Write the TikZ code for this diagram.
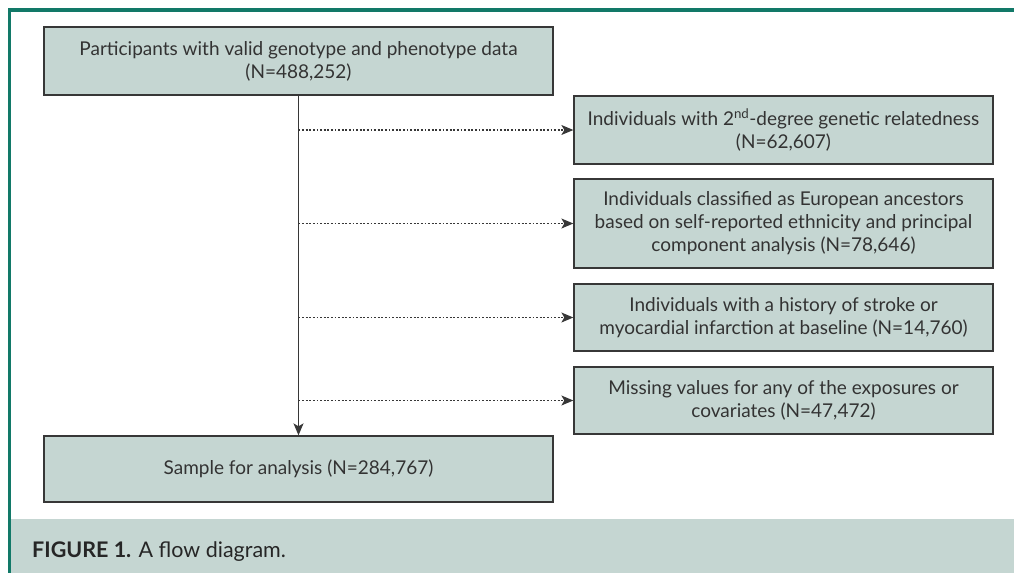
\documentclass[tikz,border=0pt]{standalone}
\usepackage{fontspec}
\setmainfont{Lato}
\usetikzlibrary{arrows.meta}
\definecolor{framegreen}{RGB}{18,121,104}
\definecolor{boxfill}{RGB}{197,214,210}
\definecolor{boxline}{RGB}{55,55,55}

\begin{document}
\begin{tikzpicture}[x=1pt, y=-1pt, every node/.style={font=\fontsize{19}{23}\selectfont, text=black!80}, >={Stealth[length=12pt, width=10pt, inset=3pt]},
	flowbox/.style={draw=boxline, line width=1.3pt, fill=boxfill, align=center, inner sep=0pt},
	mainbox/.style={flowbox, minimum width=509pt},
	exclbox/.style={flowbox, minimum width=419pt},
	exclline/.style={->, boxline, line width=1.3pt, dash pattern=on 1.8pt off 1.8pt}]
	\useasboundingbox (0,0) rectangle (1014,573);
	\fill[boxfill] (11.4,519) rectangle (1014,573);
	\draw[framegreen, line width=3.8pt] (1014,10.3) -- (9.5,10.3) -- (9.5,573);
	\node[mainbox, minimum height=68pt] (source) at (298.5,61) {Participants with valid genotype and phenotype data\\(N=488,252)};
	\node[exclbox, minimum height=68pt] (related) at (783.5,130) {Individuals with 2\textsuperscript{nd}-degree genetic relatedness\\(N=62,607)};
	\node[exclbox, minimum height=89pt] (ancestry) at (783.5,223.5) {Individuals classified as European ancestors\\based on self-reported ethnicity and principal\\component analysis (N=78,646)};
	\node[exclbox, minimum height=67pt] (history) at (783.5,317.5) {Individuals with a history of stroke or\\myocardial infarction at baseline (N=14,760)};
	\node[exclbox, minimum height=67pt] (missing) at (783.5,400.5) {Missing values for any of the exposures or\\covariates (N=47,472)};
	\node[mainbox, minimum height=66pt] (sample) at (298.5,469) {Sample for analysis (N=284,767)};
	\draw[->, boxline, line width=1.3pt] (source.south) -- (sample.north);
	\draw[exclline] (related.west -| source.south) -- (related.west);
	\draw[exclline] (ancestry.west -| source.south) -- (ancestry.west);
	\draw[exclline] (history.west -| source.south) -- (history.west);
	\draw[exclline] (missing.west -| source.south) -- (missing.west);
	\node[anchor=base west, inner sep=0pt, font=\fontsize{21.5}{25}\selectfont, text=black!85] (caption) at (32,557) {\textbf{FIGURE 1.} A flow diagram.};
\end{tikzpicture}
\end{document}
